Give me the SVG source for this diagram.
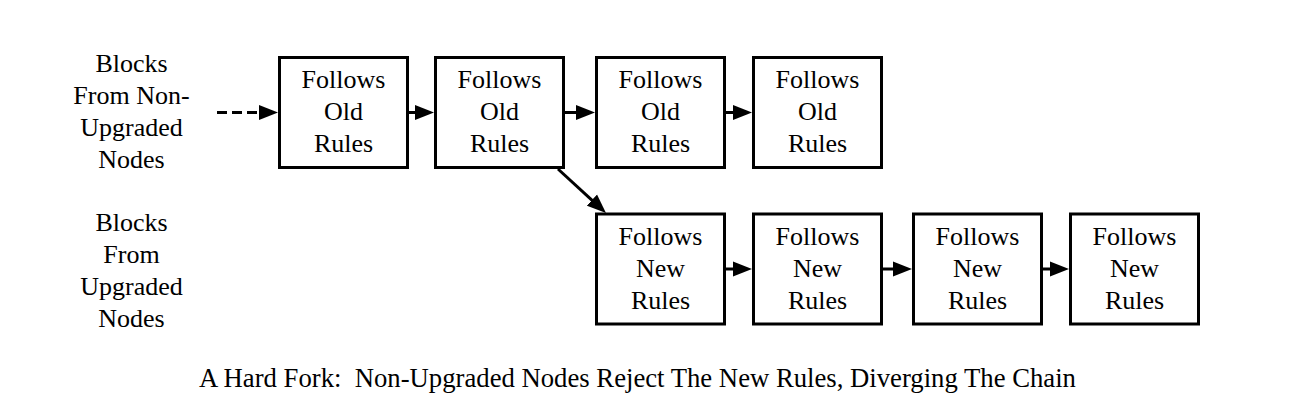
<svg xmlns="http://www.w3.org/2000/svg" width="1298" height="410" viewBox="0 0 1298 410">
<style>
  .box { fill: #ffffff; stroke: #000000; stroke-width: 3; }
  .t { font-family: "Liberation Serif", "Times New Roman", serif; font-size: 26px; fill: #000000; text-anchor: middle; }
  .cap { font-family: "Liberation Serif", "Times New Roman", serif; font-size: 26.7px; fill: #000000; text-anchor: middle; white-space: pre; }
  .edge { stroke: #000000; stroke-width: 3; fill: none; marker-end: url(#arrow); }
  .dash { stroke-dasharray: 10 5; }
</style>
<defs>
  <marker id="arrow" markerUnits="userSpaceOnUse" markerWidth="20" markerHeight="16" refX="1" refY="7.5" orient="auto" viewBox="0 0 20 15">
    <path d="M0,0 L19,7.5 L0,15 z" fill="#000000"/>
  </marker>
</defs>
<rect width="1298" height="410" fill="#ffffff"/>

<g id="label-nonupgraded">
  <text class="t" x="131.5" y="72">Blocks</text>
  <text class="t" x="131.5" y="104">From Non-</text>
  <text class="t" x="131.5" y="136">Upgraded</text>
  <text class="t" x="131.5" y="168">Nodes</text>
</g>
<g id="label-upgraded">
  <text class="t" x="131.5" y="231">Blocks</text>
  <text class="t" x="131.5" y="263">From</text>
  <text class="t" x="131.5" y="295">Upgraded</text>
  <text class="t" x="131.5" y="327">Nodes</text>
</g>

<g id="old1">
  <rect class="box" x="279.5" y="57.5" width="128" height="110"/>
  <text class="t" x="343.5" y="88">Follows</text>
  <text class="t" x="343.5" y="120">Old</text>
  <text class="t" x="343.5" y="152">Rules</text>
</g>
<g id="old2">
  <rect class="box" x="435.5" y="57.5" width="128" height="110"/>
  <text class="t" x="499.5" y="88">Follows</text>
  <text class="t" x="499.5" y="120">Old</text>
  <text class="t" x="499.5" y="152">Rules</text>
</g>
<g id="old3">
  <rect class="box" x="596.5" y="57.5" width="128" height="110"/>
  <text class="t" x="660.5" y="88">Follows</text>
  <text class="t" x="660.5" y="120">Old</text>
  <text class="t" x="660.5" y="152">Rules</text>
</g>
<g id="old4">
  <rect class="box" x="753.5" y="57.5" width="128" height="110"/>
  <text class="t" x="817.5" y="88">Follows</text>
  <text class="t" x="817.5" y="120">Old</text>
  <text class="t" x="817.5" y="152">Rules</text>
</g>

<g id="new1">
  <rect class="box" x="596.5" y="214" width="128" height="110"/>
  <text class="t" x="660.5" y="244.5">Follows</text>
  <text class="t" x="660.5" y="276.5">New</text>
  <text class="t" x="660.5" y="308.5">Rules</text>
</g>
<g id="new2">
  <rect class="box" x="753.5" y="214" width="128" height="110"/>
  <text class="t" x="817.5" y="244.5">Follows</text>
  <text class="t" x="817.5" y="276.5">New</text>
  <text class="t" x="817.5" y="308.5">Rules</text>
</g>
<g id="new3">
  <rect class="box" x="913.5" y="214" width="128" height="110"/>
  <text class="t" x="977.5" y="244.5">Follows</text>
  <text class="t" x="977.5" y="276.5">New</text>
  <text class="t" x="977.5" y="308.5">Rules</text>
</g>
<g id="new4">
  <rect class="box" x="1070.5" y="214" width="128" height="110"/>
  <text class="t" x="1134.5" y="244.5">Follows</text>
  <text class="t" x="1134.5" y="276.5">New</text>
  <text class="t" x="1134.5" y="308.5">Rules</text>
</g>

<g id="connectors">
  <line class="edge dash" x1="217" y1="112.5" x2="260" y2="112.5"/>
  <line class="edge" x1="409" y1="112.5" x2="416" y2="112.5"/>
  <line class="edge" x1="565" y1="112.5" x2="577" y2="112.5"/>
  <line class="edge" x1="726" y1="112.5" x2="734" y2="112.5"/>
  <line class="edge" x1="558" y1="169" x2="592.7" y2="200.8"/>
  <line class="edge" x1="726" y1="269" x2="734" y2="269"/>
  <line class="edge" x1="883" y1="269" x2="894" y2="269"/>
  <line class="edge" x1="1043" y1="269" x2="1051" y2="269"/>
</g>

<g id="caption">
  <text class="cap" x="637.5" y="387" xml:space="preserve">A Hard Fork:  Non-Upgraded Nodes Reject The New Rules, Diverging The Chain</text>
</g>
</svg>
